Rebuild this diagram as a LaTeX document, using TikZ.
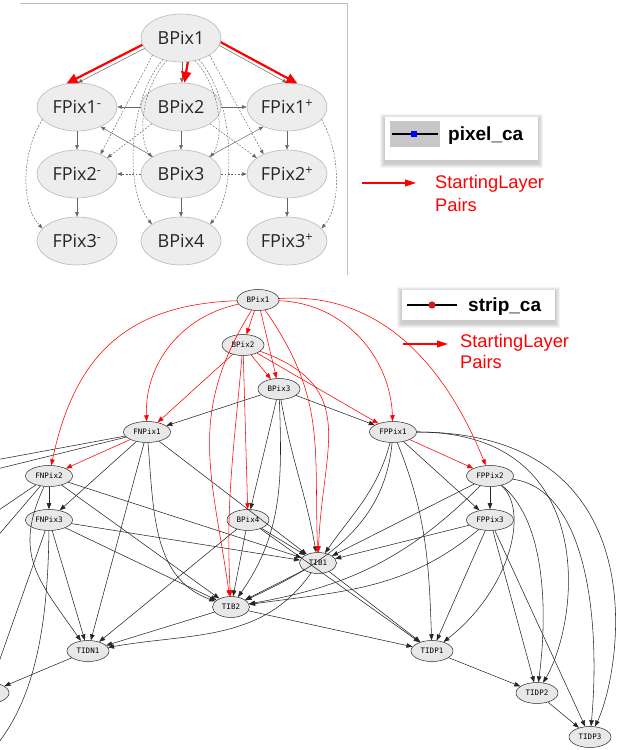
\documentclass[tikz,border=0pt]{standalone}
\usepackage{fontspec}
\setmainfont{Liberation Sans}
\newfontfamily\osfont{Open Sans}
\newfontfamily\dvmono{DejaVu Sans Mono}
\usetikzlibrary{arrows.meta,shapes.geometric}
\begin{document}
\begin{tikzpicture}[x=1pt,y=1pt,
 tnode/.style={ellipse,draw=black!28,fill=black!7,line width=0.6pt,minimum width=80pt,minimum height=48pt,inner sep=0pt,text=black!85,font=\osfont\fontsize{18}{20}\selectfont},
 tedge/.style={draw=black!60,line width=0.5pt,-{Triangle[length=4.5pt,width=3.5pt]}},
 tdash/.style={tedge,dash pattern=on 1.8pt off 1.5pt},
 tred/.style={draw=red,line width=2.2pt,-{Triangle[length=11pt,width=10pt]}},
 bnode/.style={ellipse,draw=black!85,fill=black!9,line width=0.5pt,minimum width=42pt,minimum height=21pt,inner sep=0pt,font=\dvmono\fontsize{7.5}{8}\selectfont},
 wide/.style={minimum width=47pt},
 narrow/.style={minimum width=37pt},
 bedge/.style={draw=black!85,line width=0.55pt,-{Triangle[length=6pt,width=4.5pt]}},
 redge/.style={draw=red,line width=0.55pt,-{Triangle[length=6pt,width=4.5pt]}},
 legtext/.style={anchor=base west,inner sep=0pt,font=\fontsize{18.3}{20}\selectfont,text=red},
 legbold/.style={anchor=base west,inner sep=0pt,font=\bfseries\fontsize{19}{20}\selectfont}]
\useasboundingbox (0,0) rectangle (629,750);
\clip (0,0) rectangle (629,750);

% ---------- top (pixel) graph ----------
\draw[black!25,line width=0.8pt] (20,747) -- (347,747) -- (347,475);
\node[tnode] (N1) at (181,712) {BPix1};
\node[tnode] (F1m) at (77,643) {FPix1\textsuperscript{-}};
\node[tnode] (B2) at (181,643) {BPix2};
\node[tnode] (F1p) at (287,643) {FPix1\textsuperscript{+}};
\node[tnode] (F2m) at (77,576) {FPix2\textsuperscript{-}};
\node[tnode] (B3) at (181,576) {BPix3};
\node[tnode] (F2p) at (287,576) {FPix2\textsuperscript{+}};
\node[tnode] (F3m) at (77,509) {FPix3\textsuperscript{-}};
\node[tnode] (B4) at (181,509) {BPix4};
\node[tnode] (F3p) at (287,509) {FPix3\textsuperscript{+}};

\draw[tedge] (B2) -- (F1m);
\draw[tedge] (B2) -- (F1p);
\draw[tedge] (F1m) -- (F2m);
\draw[tedge] (F2m) -- (F3m);
\draw[tedge] (B2) -- (B3);
\draw[tedge] (B3) -- (B4);
\draw[tedge] (F1p) -- (F2p);
\draw[tedge] (F2p) -- (F3p);
\draw[tedge] (B3.148) -- (F1m.-40);
\draw[tedge] (B3.32) -- (F1p.220);
\draw[tdash] (B3) -- (F2m);
\draw[tdash] (B3) -- (F2p);
\draw[tdash] (N1.211) -- (F2m.40);
\draw[tdash] (N1.-31) -- (F2p.140);
\draw[tdash] (B2.210) -- (F2m.28);
\draw[tdash] (B2.-30) -- (F2p.152);
\draw[tdash] (N1.238) .. controls (140,660) and (138,610) .. (B3.150);
\draw[tdash] (N1.230) .. controls (128,650) and (124,560) .. (B4.150);
\draw[tdash] (N1.-58) .. controls (222,660) and (224,610) .. (B3.30);
\draw[tdash] (N1.-50) .. controls (234,650) and (238,560) .. (B4.30);
\draw[tdash] (F1m.200) .. controls (22,600) and (20,545) .. (F3m.160);
\draw[tdash] (F1p.-20) .. controls (340,600) and (342,545) .. (F3p.20);
\draw[tedge] (N1.196) -- (F1m.88);
\draw[tedge] (N1.-88) -- (B2.88);
\draw[tedge] (N1.-11) -- (F1p.90);
\draw[tred] (N1.190) -- (F1m.114);
\draw[tred] (N1.-74) -- (B2.82);
\draw[tred] (N1.-6) -- (F1p.66);

% ---------- legend 1 ----------
\foreach \d in {1,...,5} \fill[black,opacity=0.045] ({385-\d},{587-\d}) rectangle ({538+\d},{631+\d});
\fill[white] (385,590) rectangle (538,633);
\fill[black!22] (390,603) rectangle (440,629);
\coordinate (pl1) at (392,616); \coordinate (pl2) at (438,616);
\draw[black,line width=1.6pt] (pl1) -- (pl2);
\fill[blue] (411,613) rectangle (417,619);
\node[legbold] (pxl) at (448,609) {pixel\_ca};
\coordinate (ra1) at (362,567); \coordinate (ra2) at (416,567);
\draw[red,line width=1.1pt,-{Triangle[length=11pt,width=7pt]}] (ra1) -- (ra2);
\node[legtext] (sla) at (435,561) {StartingLayer};
\node[legtext] (slb) at (435,538) {Pairs};

% ---------- legend 2 ----------
\foreach \d in {1,...,5} \fill[black,opacity=0.045] ({402-\d},{427-\d}) rectangle ({555+\d},{458+\d});
\fill[white] (402,430) rectangle (555,460);
\coordinate (sl1) at (407,445); \coordinate (sl2) at (457,445);
\draw[black,line width=1.6pt] (sl1) -- (sl2);
\fill[red!80!black!90] (432,445) circle (3.6);
\node[legbold] (stl) at (468,438) {strip\_ca};
\coordinate (rb1) at (403,406); \coordinate (rb2) at (448,406);
\draw[red,line width=1.1pt,-{Triangle[length=11pt,width=7pt]}] (rb1) -- (rb2);
\node[legtext] (slc) at (460,402) {StartingLayer};
\node[legtext] (sld) at (460,381) {Pairs};

% ---------- bottom (strip) graph ----------
\node[bnode] (b1) at (258,450) {BPix1};
\node[bnode] (b2) at (243,405) {BPix2};
\node[bnode] (b3) at (279,361) {BPix3};
\node[bnode,wide] (fn1) at (147,318) {FNPix1};
\node[bnode,wide] (fp1) at (393,318) {FPPix1};
\node[bnode,wide] (fn2) at (49,274) {FNPix2};
\node[bnode,wide] (fp2) at (490,274) {FPPix2};
\node[bnode,wide] (fn3) at (49,230) {FNPix3};
\node[bnode,wide] (fp3) at (490,230) {FPPix3};
\node[bnode] (b4) at (248,230) {BPix4};
\node[bnode,narrow] (t1) at (318,187) {TIB1};
\node[bnode,narrow] (t2) at (231,143) {TIB2};
\node[bnode] (tdn1) at (88,99) {TIDN1};
\node[bnode] (tdp1) at (432,99) {TIDP1};
\node[bnode] (tdp2) at (537,57) {TIDP2};
\node[bnode] (tdp3) at (590,13) {TIDP3};
\node[bnode] (tdn2) at (-12,57) {};
\coordinate (tdn3) at (-15,-8);
\coordinate (xa) at (-80,276);
\coordinate (xb) at (-80,262);
\coordinate (xc) at (-60,200);
\coordinate (xd) at (-40,170);

% black edges
\draw[bedge] (b3) -- (fn1);
\draw[bedge] (b3) -- (fp1);
\draw[bedge] (b3) -- (b4);
\draw[bedge] (b3) to[out=-80,in=100] (t1);
\draw[bedge] (b3) to[out=-88,in=55] (t2);
\draw[bedge] (fn1) -- (fn3);
\draw[bedge] (fn1) -- (tdn1);
\draw[bedge] (fn1) to[out=-85,in=160] (t2);
\draw[bedge] (fn1) -- (t1);
\draw[bedge] (fn1) -- (xa);
\draw[bedge] (fn1) -- (xb);
\draw[bedge] (fn2) -- (fn3);
\draw[bedge] (fn2) -- (t1);
\draw[bedge] (fn2) -- (t2);
\draw[bedge] (fn2) to[out=-115,in=125,looseness=1.2] (tdn1);
\draw[bedge] (fn2) -- (xc);
\draw[bedge] (fn2) -- (xd);
\draw[bedge] (fn3) -- (t1);
\draw[bedge] (fn3) -- (t2);
\draw[bedge] (fn3) -- (tdn1);
\draw[bedge] (fn3) -- (tdn2);
\draw[bedge] (fn3) .. controls (48,110) and (30,40) .. (tdn3);
\draw[bedge] (tdn1) -- (tdn2);
\draw[bedge] (b4) -- (t1);
\draw[bedge] (b4) -- (t2);
\draw[bedge] (b4) -- (tdn1);
\draw[bedge] (b4) -- (tdp1);
\draw[bedge] (t1) -- (t2);
\draw[bedge] (t1) -- (tdp1);
\draw[bedge] (t1) to[out=-125,in=10] (tdn1);
\draw[bedge] (t2) -- (tdn1);
\draw[bedge] (t2) -- (tdp1);
\draw[bedge] (fp1) -- (fp3);
\draw[bedge] (fp1) to[out=-105,in=55] (t1);
\draw[bedge] (fp1) to[out=-95,in=25] (t2);
\draw[bedge] (fp1) to[out=-68,in=92] (tdp1);
\draw[bedge] (fp1) .. controls (600,318) and (580,130) .. (tdp2);
\draw[bedge] (fp1) .. controls (660,318) and (622,80) .. (tdp3);
\draw[bedge] (fp2) -- (fp3);
\draw[bedge] (fp2) -- (t1);
\draw[bedge] (fp2) to[out=-135,in=10] (t2);
\draw[bedge] (fp2) .. controls (530,240) and (510,160) .. (tdp1);
\draw[bedge] (fp2) .. controls (545,230) and (548,140) .. (tdp2);
\draw[bedge] (fp2) .. controls (590,260) and (600,120) .. (tdp3);
\draw[bedge] (fp3) -- (t1);
\draw[bedge] (fp3) to[out=-140,in=8] (t2);
\draw[bedge] (fp3) -- (tdp1);
\draw[bedge] (fp3) -- (tdp2);
\draw[bedge] (fp3) -- (tdp3);
\draw[bedge] (tdp1) -- (tdp2);
\draw[bedge] (tdp2) -- (tdp3);

% red edges
\draw[redge] (b1) -- (b2);
\draw[redge] (b1) -- (b3);
\draw[redge] (b1) to[out=192,in=92] (fn1);
\draw[redge] (b1) to[out=182,in=78,looseness=1.15] (fn2);
\draw[redge] (b1) to[out=-2,in=92] (fp1);
\draw[redge] (b1) to[out=4,in=112] (fp2);
\draw[redge] (b1) to[out=-55,in=92,looseness=1.1] (t1);
\draw[redge] (b1) to[out=238,in=98,looseness=1.1] (t2);
\draw[redge] (b2) -- (fn1);
\draw[redge] (b2) -- (b3);
\draw[redge] (b2) -- (fp1);
\draw[redge] (b2) to[out=-20,in=88,looseness=1.3] (t1);
\draw[redge] (b2) to[out=-95,in=93] (t2);
\draw[redge] (b2) -- (b4);
\draw[redge] (fn1) -- (fn2);
\draw[redge] (fp1) -- (fp2);
\end{tikzpicture}
\end{document}
